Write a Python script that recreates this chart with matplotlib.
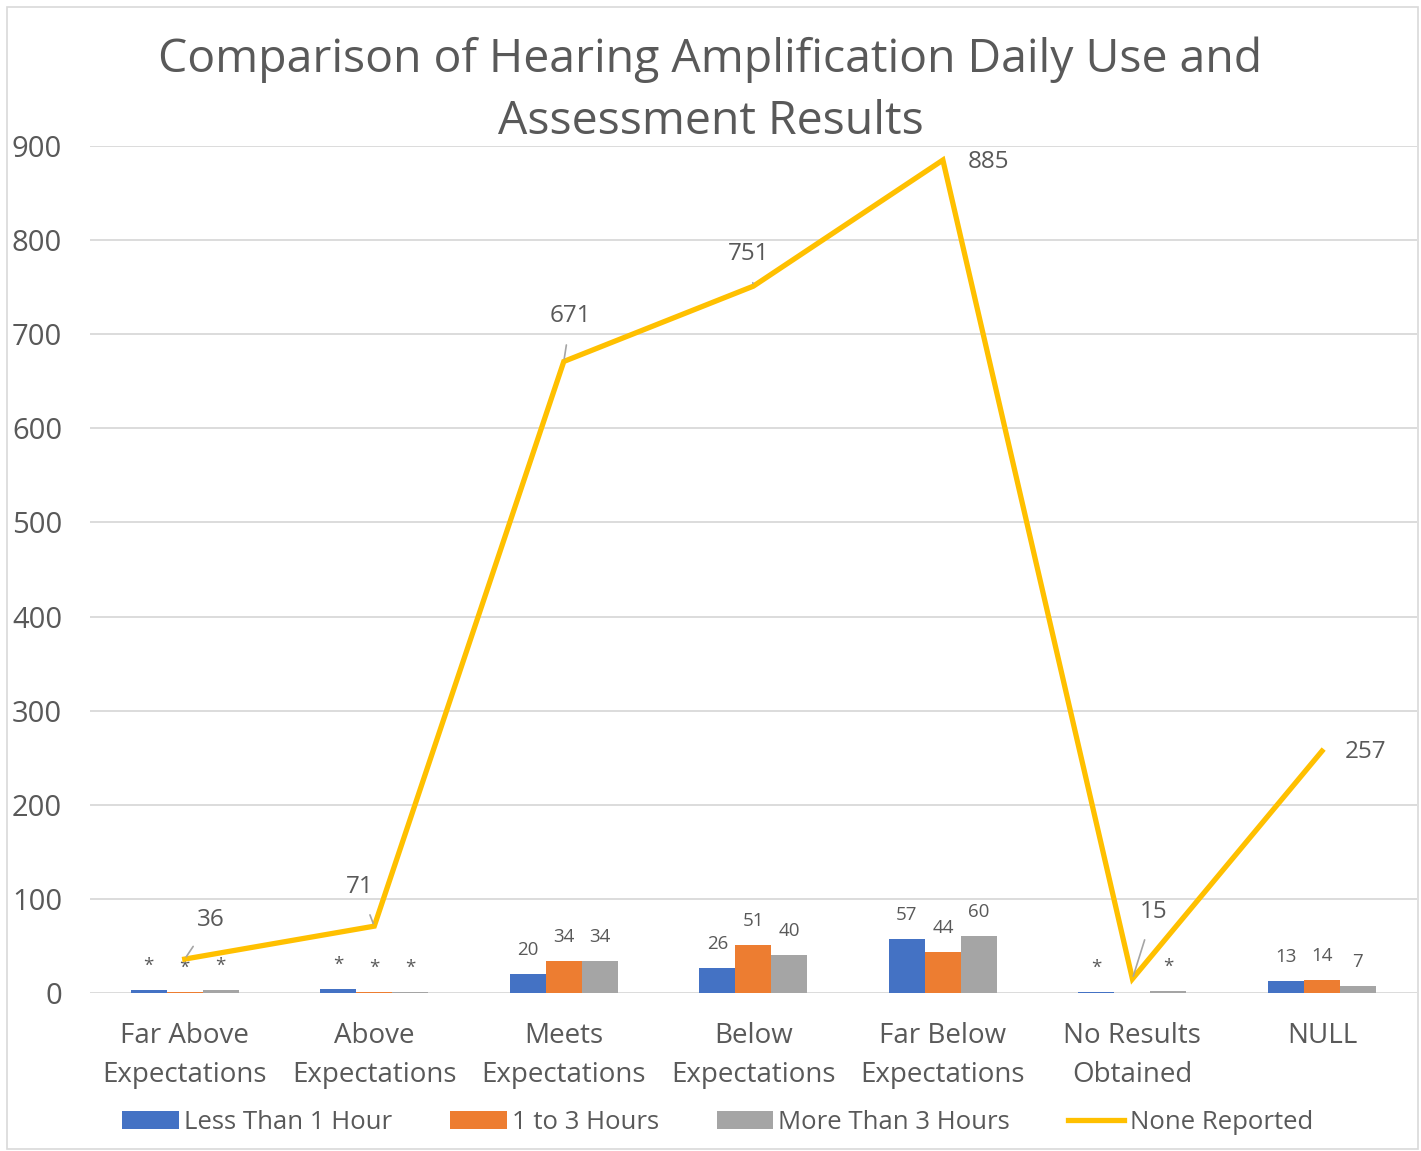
import matplotlib.pyplot as plt
import numpy as np
from matplotlib.patches import Rectangle

# data
categories = ["Far Above\nExpectations", "Above\nExpectations", "Meets\nExpectations",
              "Below\nExpectations", "Far Below\nExpectations", "No Results\nObtained", "NULL"]
less_1h = [3, 4, 20, 26, 57, 1, 13]
h1_to_3 = [1, 1, 34, 51, 44, 0, 14]
more_3h = [3, 1, 34, 40, 60, 2, 7]
none_reported = [36, 71, 671, 751, 885, 15, 257]

less_1h_labels = ["*", "*", "20", "26", "57", "*", "13"]
h1_to_3_labels = ["*", "*", "34", "51", "44", "", "14"]
more_3h_labels = ["*", "*", "34", "40", "60", "*", "7"]

series_names = ["Less Than 1 Hour", "1 to 3 Hours", "More Than 3 Hours", "None Reported"]

plt.rcParams['font.family'] = ['Open Sans', 'DejaVu Sans']
txt = "#595959"

fig = plt.figure(figsize=(14.21, 11.51), dpi=100)
ax = fig.add_axes([0.0633, 0.1373, 0.9337, 0.7359])

x = np.arange(len(categories))
w = 0.19
colors = ["#4472C4", "#ED7D31", "#A5A5A5"]
for i, (vals, labs) in enumerate([(less_1h, less_1h_labels), (h1_to_3, h1_to_3_labels),
                                  (more_3h, more_3h_labels)]):
    ax.bar(x + (i - 1) * w, vals, w, color=colors[i], label=series_names[i], zorder=2)
    for xi, v, lab in zip(x, vals, labs):
        ax.annotate(lab, (xi + (i - 1) * w, v), xytext=(0, 15), textcoords="offset pixels",
                    ha="center", va="bottom", fontsize=13.5, color=txt)

ax.plot(x, none_reported, color="#FFC000", lw=3.8, label=series_names[3], zorder=3,
        solid_joinstyle="miter")

# label offsets in pixels (dx, dy) and whether a leader line is drawn
line_offsets = [(26, 39, True), (-15, 39, True), (7, 45, True), (-5, 32, True),
                (46, -2, False), (21, 67, True), (44, -1, False)]
for xi, v, (dx, dy, lead) in zip(x, none_reported, line_offsets):
    ap = dict(arrowstyle="-", color="#A5A5A5", lw=1.2, shrinkA=10, shrinkB=2) if lead else None
    ax.annotate(str(v), (xi, v), xytext=(dx, dy), textcoords="offset pixels",
                ha="center", va="center", fontsize=17.5, color=txt, arrowprops=ap, zorder=4)

ax.set_xlim(-0.5, len(categories) - 0.5)
ax.set_ylim(0, 900)
ax.set_yticks(range(0, 901, 100))
ax.set_xticks(x)
ax.set_xticklabels(categories, fontsize=20, color=txt, linespacing=1.5)
ax.tick_params(axis="y", labelsize=21, labelcolor=txt, length=0, pad=20)
ax.tick_params(axis="x", length=0, pad=21)
ax.grid(axis="y", color="#D9D9D9", lw=1.3, zorder=0)
ax.set_axisbelow(True)
for s in ax.spines.values():
    s.set_visible(False)

fig.text(0.5, 0.9215, "Comparison of Hearing Amplification Daily Use and\nAssessment Results",
         ha="center", va="center", fontsize=33.4, color=txt, linespacing=1.46)

h, l = ax.get_legend_handles_labels()
order = [1, 2, 3, 0]
fig.legend([h[i] for i in order], [l[i] for i in order], loc="center",
           bbox_to_anchor=(0.505, 0.025), ncol=4, frameon=False, fontsize=18.5,
           labelcolor=txt, handlelength=2.2, handletextpad=0.2, columnspacing=2.25)

fig.patches.append(Rectangle((0.005, 0.002), 0.993, 0.992, transform=fig.transFigure,
                             fill=False, edgecolor="#D9D9D9", lw=1.2))

fig.savefig("out.png", dpi=100)
